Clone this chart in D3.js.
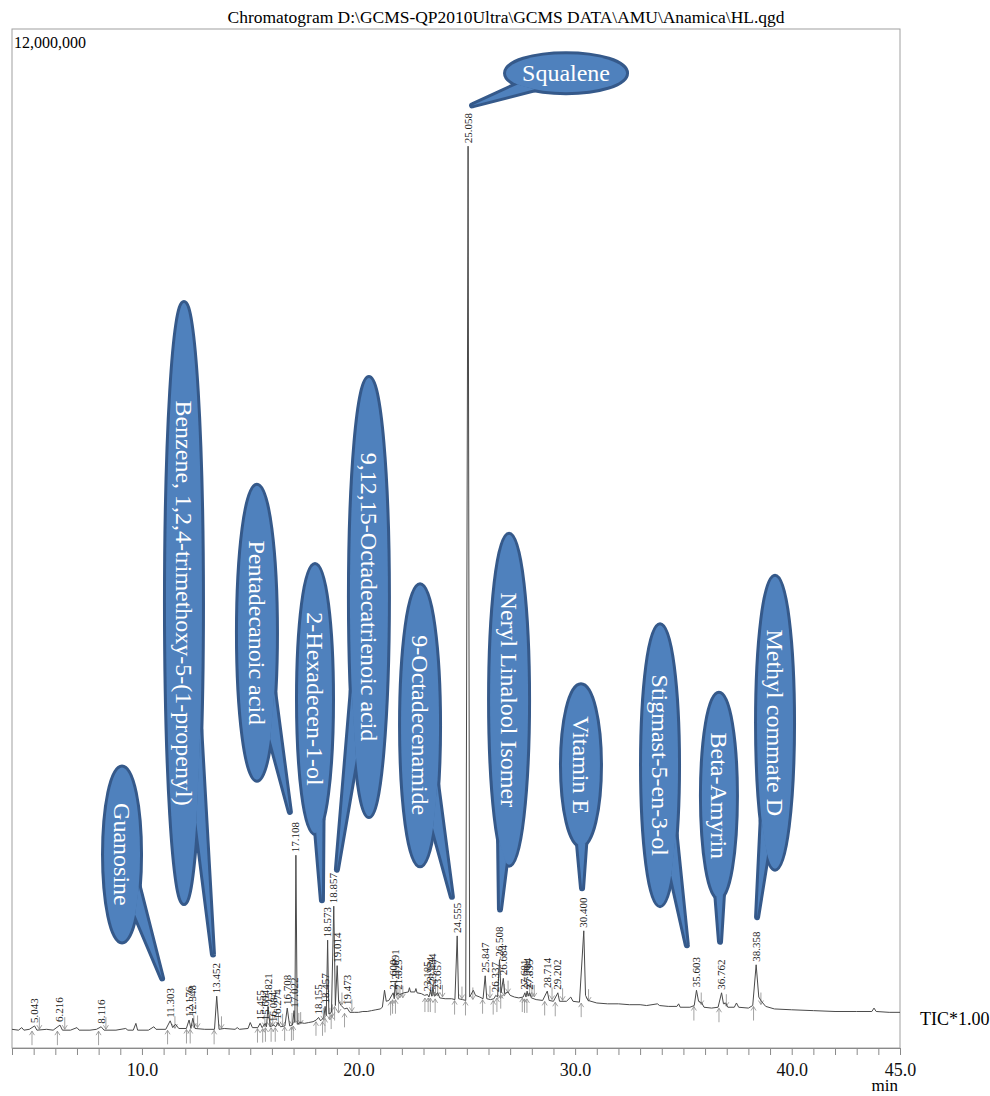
<!DOCTYPE html>
<meta charset="utf-8">
<style>
body { margin: 0; background: #fff; }
svg { display: block; font-family: "Liberation Serif", "Times New Roman", serif; }
.trace { fill: none; stroke: #4a4a4a; stroke-width: 1; }
.frame { fill: none; stroke: #a0a0a0; }
.axis path, .axis line { stroke: #8a8a8a; }
.axis text { font-family: "Liberation Serif", serif; font-size: 18px; fill: #111; }
.peak-label { font-size: 11px; fill: #222; }
.mark { stroke: #8c8c8c; fill: none; stroke-width: 0.8; }
.callout-edge { fill: #35598a; stroke: #35598a; stroke-width: 6; stroke-linejoin: round; }
.callout-fill { fill: #4f81bd; }
.callout-text { fill: #fff; font-size: 24px; }
</style>
<body>
<svg width="990" height="1096"></svg>
<script src="https://d3js.org/d3.v7.min.js"></script>
<script>

var title = "Chromatogram D:\\GCMS-QP2010Ultra\\GCMS DATA\\AMU\\Anamica\\HL.qgd";
var yMax = 12;              // millions of counts
var xDomain = [4, 45];      // retention time, min
var xLabelTicks = [10, 20, 30, 40, 45];

// TIC trace: [retention time (min), intensity (millions)]
var trace = [
  [4.00,0.22],[4.30,0.21],[4.45,0.24],[4.55,0.21],[4.80,0.22],[5.043,0.26],[5.15,0.21],[5.60,0.22],[5.90,0.21],
  [6.216,0.27],[6.33,0.21],[6.70,0.21],[7.00,0.24],[7.10,0.21],[7.60,0.21],[7.90,0.22],[8.116,0.25],[8.25,0.21],
  [8.80,0.21],[9.25,0.23],[9.35,0.21],[9.60,0.21],[9.72,0.29],[9.80,0.21],[10.30,0.21],[10.55,0.25],[10.65,0.22],
  [11.10,0.22],[11.303,0.32],[11.42,0.24],[11.55,0.28],[11.70,0.23],[12.05,0.23],[12.176,0.33],[12.26,0.23],
  [12.348,0.35],[12.45,0.23],[12.90,0.22],[13.35,0.22],[13.452,0.61],[13.56,0.22],[13.80,0.23],[14.30,0.22],
  [14.40,0.24],[14.50,0.22],[14.90,0.23],[15.00,0.30],[15.10,0.24],[15.35,0.24],[15.455,0.29],[15.55,0.24],
  [15.694,0.29],[15.75,0.25],[15.821,0.49],[15.92,0.25],[16.084,0.27],[16.18,0.25],[16.274,0.30],[16.40,0.25],
  [16.60,0.26],[16.708,0.47],[16.82,0.26],[16.95,0.27],[17.022,0.44],[17.06,0.30],[17.108,2.27],[17.17,0.28],
  [17.30,0.30],[17.50,0.29],[17.70,0.30],[17.90,0.31],[18.05,0.33],[18.155,0.36],[18.25,0.32],[18.40,0.36],
  [18.457,0.49],[18.51,0.38],[18.573,1.27],[18.63,0.40],[18.75,0.42],[18.857,1.67],[18.93,0.50],[19.014,0.97],
  [19.08,0.55],[19.20,0.50],[19.35,0.46],[19.473,0.47],[19.60,0.42],[19.80,0.42],[20.00,0.42],[20.20,0.43],
  [20.40,0.43],[20.60,0.44],[20.80,0.45],[21.00,0.46],[21.10,0.48],[21.20,0.68],[21.28,0.55],[21.40,0.56],
  [21.600,0.65],[21.65,0.58],[21.691,0.77],[21.75,0.62],[21.825,0.65],[21.90,0.63],[22.10,0.65],[22.30,0.66],
  [22.35,0.71],[22.40,0.66],[22.60,0.66],[22.65,0.70],[22.70,0.65],[22.90,0.64],[23.05,0.62],[23.185,0.63],
  [23.25,0.60],[23.334,0.68],[23.38,0.61],[23.434,0.72],[23.50,0.61],[23.657,0.65],[23.75,0.59],[24.00,0.58],
  [24.30,0.58],[24.45,0.57],[24.555,1.32],[24.62,0.58],[24.80,0.57],[24.95,0.56],[25.058,10.62],[25.13,0.60],
  [25.30,0.68],[25.40,0.62],[25.60,0.60],[25.75,0.58],[25.847,0.85],[25.92,0.58],[26.10,0.57],[26.25,0.58],
  [26.337,0.62],[26.42,0.60],[26.508,1.04],[26.58,0.65],[26.684,0.82],[26.75,0.64],[26.90,0.66],[27.00,0.62],
  [27.20,0.60],[27.40,0.59],[27.60,0.60],[27.681,0.65],[27.73,0.60],[27.784,0.67],[27.83,0.61],[27.895,0.65],
  [27.98,0.59],[28.20,0.57],[28.50,0.56],[28.714,0.67],[28.80,0.56],[29.00,0.55],[29.202,0.65],[29.28,0.55],
  [29.60,0.55],[29.80,0.60],[29.90,0.55],[30.20,0.54],[30.400,1.38],[30.48,0.62],[30.60,0.56],[31.00,0.53],
  [31.50,0.52],[32.00,0.52],[32.50,0.51],[33.00,0.51],[33.30,0.50],[33.80,0.52],[33.90,0.50],[34.30,0.49],
  [34.70,0.49],[34.78,0.52],[34.85,0.48],[35.30,0.48],[35.50,0.50],[35.603,0.68],[35.70,0.55],[35.85,0.53],
  [35.95,0.48],[36.30,0.47],[36.60,0.48],[36.762,0.65],[36.85,0.52],[36.95,0.53],[37.05,0.48],[37.35,0.48],
  [37.45,0.53],[37.55,0.48],[38.00,0.47],[38.20,0.50],[38.358,0.98],[38.48,0.60],[38.60,0.55],[38.80,0.49],
  [39.20,0.46],[40.00,0.45],[41.00,0.44],[42.00,0.43],[43.00,0.43],[43.70,0.43],[43.80,0.47],[43.90,0.43],
  [44.50,0.42],[45.00,0.42]
];

// integrated peaks that carry a retention-time label
var peakTimes = [5.043, 6.216, 8.116, 11.303, 12.176, 12.348, 13.452, 15.455, 15.694, 15.821, 16.084, 16.274,
  16.708, 17.022, 17.108, 18.155, 18.457, 18.573, 18.857, 19.014, 19.473, 21.600, 21.691, 21.825, 23.185,
  23.334, 23.434, 23.657, 24.555, 25.058, 25.847, 26.337, 26.508, 26.684, 27.681, 27.784, 27.895, 28.714,
  29.202, 30.400, 35.603, 36.762, 38.358];

// identified compounds and the peak each callout points at
var compoundNames = ["Guanosine", "Benzene, 1,2,4-trimethoxy-5-(1-propenyl)", "Pentadecanoic acid",
  "2-Hexadecen-1-ol", "9,12,15-Octadecatrienoic acid", "9-Octadecenamide", "Squalene",
  "Neryl Linalool Isomer", "Vitamin E", "Stigmast-5-en-3-ol", "Beta-Amyrin", "Methyl commate D"];
var compoundPeaks = [11.303, 13.452, 17.108, 18.573, 18.857, 24.555, 25.058, 26.508, 30.400, 35.603, 36.762, 38.358];

// callout placement (balloon centre and tail tip in data units, radii in px)
var calloutLayout = [
  {t: 9.08,  v: 2.28,  rx: 20, ry: 89,  tipT: 10.93, tipV: 0.82, rot: 90},
  {t: 11.94, v: 5.24,  rx: 20, ry: 302, tipT: 13.28, tipV: 1.10, rot: 90},
  {t: 15.31, v: 4.89,  rx: 21, ry: 149, tipT: 16.83, tipV: 2.78, rot: 90},
  {t: 17.99, v: 4.11,  rx: 19, ry: 136, tipT: 18.31, tipV: 1.74, rot: 90},
  {t: 20.48, v: 5.31,  rx: 21, ry: 221, tipT: 19.00, tipV: 2.10, rot: 90},
  {t: 22.84, v: 3.80,  rx: 21, ry: 142, tipT: 24.31, tipV: 1.78, rot: 90},
  {t: 29.58, v: 11.48, rx: 62, ry: 21,  tipT: 25.24, tipV: 11.10, rot: 0},
  {t: 26.95, v: 4.10,  rx: 21, ry: 167, tipT: 26.53, tipV: 1.63, rot: 90},
  {t: 30.27, v: 3.33,  rx: 21, ry: 82,  tipT: 30.32, tipV: 1.88, rot: 90},
  {t: 33.92, v: 3.33,  rx: 20, ry: 142, tipT: 35.16, tipV: 1.21, rot: 90},
  {t: 36.64, v: 2.97,  rx: 19, ry: 104, tipT: 36.69, tipV: 1.25, rot: 90},
  {t: 39.23, v: 3.83,  rx: 20, ry: 148, tipT: 38.40, tipV: 1.54, rot: 90}
];

var svg = d3.select("svg"),
    box = {left: 12, right: 900, top: 29, bottom: 1048};

var x = d3.scaleLinear().domain(xDomain).range([box.left, box.right]),
    y = d3.scaleLinear().domain([0, yMax]).range([box.bottom, box.top]);

svg.append("text")
    .attr("x", 506).attr("y", 23)
    .attr("text-anchor", "middle")
    .attr("font-size", 16)
    .attr("textLength", 557)
    .attr("lengthAdjust", "spacingAndGlyphs")
    .text(title);

svg.append("rect")
    .attr("class", "frame")
    .attr("x", box.left).attr("y", box.top)
    .attr("width", box.right - box.left).attr("height", box.bottom - box.top);

svg.append("text")
    .attr("x", box.left + 2).attr("y", 48)
    .attr("font-size", 16)
    .text(d3.format(",")(yMax * 1e6));

svg.append("g")
    .attr("class", "axis")
    .attr("transform", "translate(0," + box.bottom + ")")
    .call(d3.axisBottom(x)
      .tickValues(d3.range(xDomain[0], xDomain[1] + 1))
      .tickSize(7).tickSizeOuter(0).tickPadding(8)
      .tickFormat(function(d) { return xLabelTicks.indexOf(d) >= 0 ? d.toFixed(1) : ""; }));

svg.append("text")
    .attr("x", 898).attr("y", 1091)
    .attr("text-anchor", "end")
    .attr("font-size", 17)
    .text("min");

svg.append("text")
    .attr("x", 920).attr("y", 1025)
    .attr("font-size", 18)
    .text("TIC*1.00");

// integration marks: up-arrow at peak start, down-arrow at peak end
function baseAt(t) {
  return d3.min(trace.filter(function(p) { return Math.abs(p[0] - t) <= 0.25; }), function(p) { return p[1]; });
}
function apexAt(t) {
  return d3.least(trace, function(p) { return Math.abs(p[0] - t); })[1];
}

var marks = svg.append("g").attr("class", "mark");
peakTimes.forEach(function(t) {
  var b = y(baseAt(t)), xs = x(t - 0.12), xe = x(t + 0.22);
  marks.append("path").attr("d", "M" + xs + "," + (b + 15) + "V" + (b + 1) + "M" + (xs - 2.5) + "," + (b + 5) + "L" + xs + "," + (b + 1) + "L" + (xs + 2.5) + "," + (b + 5));
  marks.append("path").attr("d", "M" + xe + "," + (b - 13) + "V" + (b - 1) + "M" + (xe - 2.5) + "," + (b - 5) + "L" + xe + "," + (b - 1) + "L" + (xe + 2.5) + "," + (b - 5));
});

svg.append("path")
    .datum(trace)
    .attr("class", "trace")
    .attr("d", d3.line()
      .x(function(d) { return x(d[0]); })
      .y(function(d) { return y(d[1]); }));

svg.append("g").selectAll("text")
  .data(peakTimes)
  .enter().append("text")
    .attr("class", "peak-label")
    .attr("transform", function(t) {
      return "translate(" + (x(t) + 3.5) + "," + (y(apexAt(t)) - 3) + ") rotate(-90)";
    })
    .text(function(t) { return t.toFixed(3); });

// callout balloons (ellipse + wedge tail, like an office "oval callout")
calloutLayout.forEach(function(c, i) {
  var cx = x(c.t), cy = y(c.v), rx = c.rx - 2, ry = c.ry - 2,
      tx = x(c.tipT), ty = y(c.tipV),
      ang = Math.atan2((ty - cy) / ry, (tx - cx) / rx),
      da = 11 * Math.PI / 180;
  var tail = [
    [cx + rx * Math.cos(ang - da), cy + ry * Math.sin(ang - da)],
    [tx, ty],
    [cx + rx * Math.cos(ang + da), cy + ry * Math.sin(ang + da)]
  ];
  var g = svg.append("g");
  ["callout-edge", "callout-fill"].forEach(function(cls) {
    g.append("ellipse").attr("class", cls)
      .attr("cx", cx).attr("cy", cy).attr("rx", rx).attr("ry", ry);
    g.append("path").attr("class", cls)
      .attr("d", "M" + tail.join("L") + "Z");
  });
  g.append("text")
    .attr("class", "callout-text")
    .attr("text-anchor", "middle")
    .attr("dominant-baseline", "central")
    .attr("transform", "translate(" + cx + "," + cy + ") rotate(" + c.rot + ")")
    .text(compoundNames[i]);
});

</script>
